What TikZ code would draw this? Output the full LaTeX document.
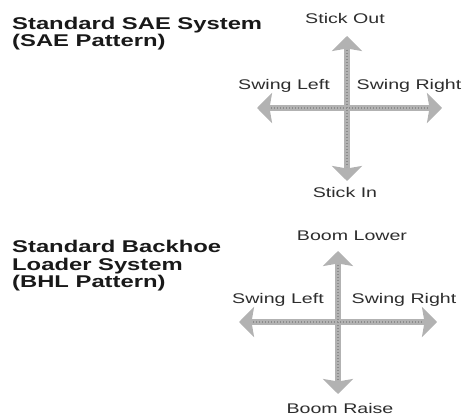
\documentclass[tikz,border=0pt]{standalone}
\usepackage{fontspec}
\setmainfont{Liberation Sans}[FakeStretch=1.4]
\usetikzlibrary{arrows.meta}
\definecolor{arrowgray}{RGB}{178,178,178}
\definecolor{arrowspeck}{RGB}{140,140,140}
\definecolor{textgray}{RGB}{45,45,45}
\definecolor{titleblack}{RGB}{25,25,25}
\begin{document}
\begin{tikzpicture}[x=1pt,y=-1pt,
  title/.style={anchor=north west, align=left, inner sep=0pt, text=titleblack,
    font=\fontsize{17}{17.5}\selectfont\bfseries},
  lbl/.style={anchor=base, inner sep=0pt, text=textgray,
    font=\fontsize{14}{14}\selectfont},
  arr/.style={draw=arrowgray, line width=6pt,
    {Stealth[width=30pt,length=15pt,inset=2.5pt]}-{Stealth[width=30pt,length=15pt,inset=2.5pt]}},
  speck/.style={draw=arrowspeck, line width=1.6pt, dash pattern=on 1pt off 2pt, shorten <=14pt, shorten >=14pt}]
\useasboundingbox (0,0) rectangle (476,419);

% ---------- top panel: SAE pattern ----------
\node[title] (t1) at (12,16.5) {Standard SAE System\\(SAE Pattern)};
\node[lbl] (so) at (345,24) {Stick Out};
\node[lbl] (sl1) at (284,90) {Swing Left};
\node[lbl] (sr1) at (409,90) {Swing Right};
\node[lbl] (si) at (345,198) {Stick In};
\coordinate (u1) at (347,36);
\coordinate (d1) at (347,181);
\coordinate (l1) at (257,108);
\coordinate (r1) at (442,108);
\draw[arr] (l1) -- (r1);
\draw[arr] (u1) -- (d1);
\draw[speck] (l1) -- (r1);
\draw[speck] (u1) -- (d1);

% ---------- bottom panel: BHL pattern ----------
\node[title] (t2) at (12,240) {Standard Backhoe\\Loader System\\(BHL Pattern)};
\node[lbl] (bl) at (352,241) {Boom Lower};
\node[lbl] (sl2) at (278,304) {Swing Left};
\node[lbl] (sr2) at (404,304) {Swing Right};
\node[lbl] (br) at (340,413) {Boom Raise};
\coordinate (u2) at (338,251);
\coordinate (d2) at (338,394);
\coordinate (l2) at (239,322);
\coordinate (r2) at (437,322);
\draw[arr] (l2) -- (r2);
\draw[arr] (u2) -- (d2);
\draw[speck] (l2) -- (r2);
\draw[speck] (u2) -- (d2);
\end{tikzpicture}
\end{document}
